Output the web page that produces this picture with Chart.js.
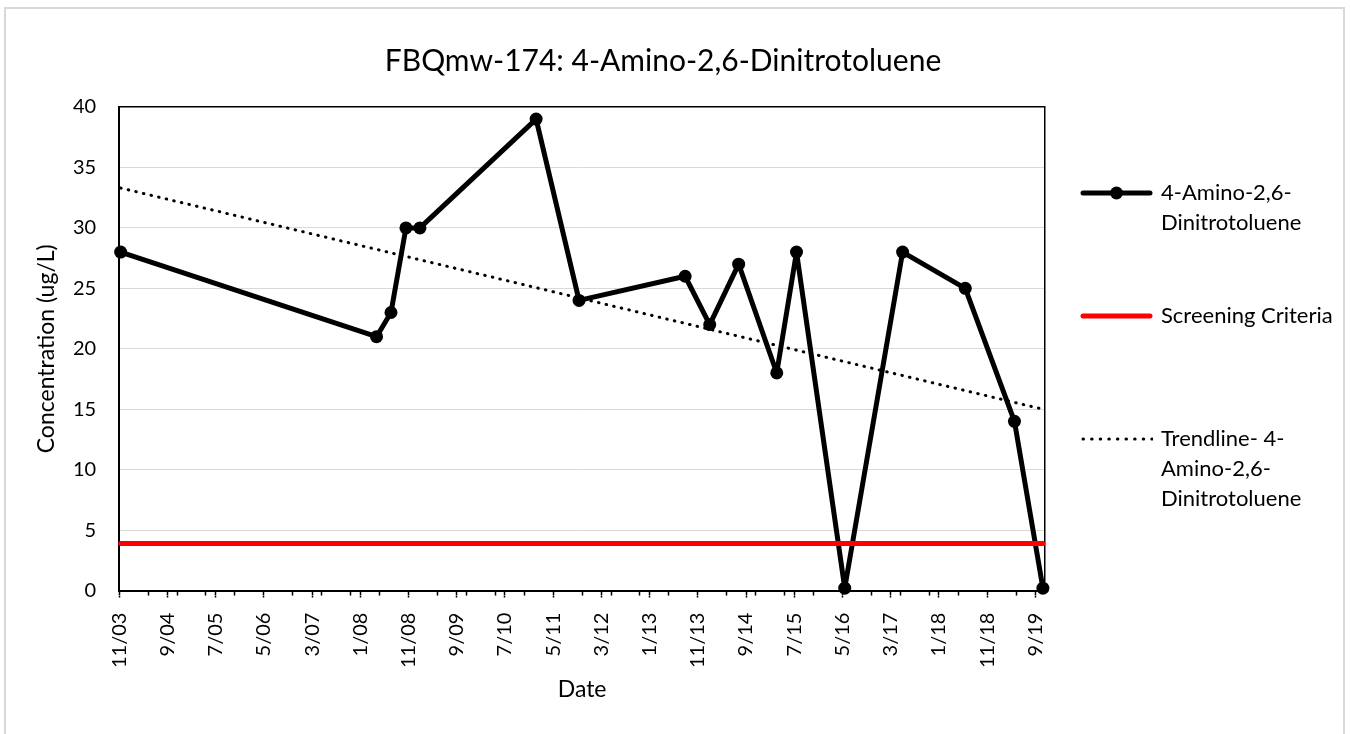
<!DOCTYPE html>
<html>
<head>
<meta charset="utf-8">
<title>FBQmw-174: 4-Amino-2,6-Dinitrotoluene</title>
<script src="https://cdn.jsdelivr.net/npm/chart.js@4.4.1/dist/chart.umd.min.js"></script>
<style>
  html, body { margin: 0; padding: 0; background: #fff; overflow: hidden; }
  #wrap { position: relative; width: 1350px; height: 734px; }
  #frame { position: absolute; left: 4px; top: 7px; width: 1337px; height: 730px; border: 2px solid #d9d9d9; pointer-events: none; }
</style>
</head>
<body>
<div id="wrap">
  <canvas id="chart"></canvas>
  <div id="frame"></div>
</div>
<script>
// chart text
const chartTitle = 'FBQmw-174: 4-Amino-2,6-Dinitrotoluene';
const xTitle = 'Date';
const yTitle = 'Concentration (ug/L)';

// sampling events (ug/L)
const sampleDates = ['2003-11-10', '2008-04-12', '2008-07-12', '2008-10-15', '2009-01-12', '2011-01-15',
  '2011-10-12', '2013-08-12', '2014-01-15', '2014-07-15', '2015-03-12', '2015-07-15', '2016-05-15',
  '2017-05-15', '2018-06-15', '2019-04-21', '2019-10-18'];
const concentration = [28, 21, 23, 30, 30, 39, 24, 26, 22, 27, 18, 28, 0.2, 28, 25, 14, 0.2];

// screening criteria line
const screeningDates = ['2003-11-10', '2019-10-18'];
const screeningValues = [3.9, 3.9];

// linear trendline end points
const trendDates = ['2003-11-10', '2019-10-18'];
const trendValues = [33.3, 15.0];

// axis ticks
const xTickLabels = ['11/03', '9/04', '7/05', '5/06', '3/07', '1/08', '11/08', '9/09', '7/10', '5/11',
  '3/12', '1/13', '11/13', '9/14', '7/15', '5/16', '3/17', '1/18', '11/18', '9/19'];
const xMax = 192; // months after 11/03 (right edge of plot)
const yMin = 0, yMax = 40, yStep = 5;

//x axis is in months counted from nov 2003
const toMonths = s => {
  const [y, m, d] = s.split('-').map(Number);
  return (y - 2003) * 12 + (m - 11) + (d - 1) / 30;
};
const labelMonths = l => {
  const [m, yy] = l.split('/').map(Number);
  return (2000 + yy - 2003) * 12 + (m - 11);
};
const toPoints = (dates, vals) => dates.map((d, i) => ({ x: toMonths(d), y: vals[i] }));

//small canvases used as legend symbols
const makeSymbol = draw => {
  const c = document.createElement('canvas');
  c.width = 73;
  c.height = 16;
  const g = c.getContext('2d');
  draw(g);
  return c;
};
const symMain = makeSymbol(g => {
  g.strokeStyle = '#000';
  g.lineWidth = 5;
  g.lineCap = 'round';
  g.beginPath(); g.moveTo(3, 8); g.lineTo(70, 8); g.stroke();
  g.fillStyle = '#000';
  g.beginPath(); g.arc(36.5, 8, 6.5, 0, Math.PI * 2); g.fill();
});
const symScreen = makeSymbol(g => {
  g.strokeStyle = '#ff0000';
  g.lineWidth = 5;
  g.lineCap = 'round';
  g.beginPath(); g.moveTo(3, 8); g.lineTo(70, 8); g.stroke();
});
const symTrend = makeSymbol(g => {
  g.strokeStyle = '#000';
  g.lineWidth = 3;
  g.lineCap = 'round';
  g.setLineDash([0.5, 8.1]);
  g.beginPath(); g.moveTo(3, 8); g.lineTo(72, 8); g.stroke();
});

const legendItems = [
  { text: ['4-Amino-2,6-', 'Dinitrotoluene', ''], pointStyle: symMain, fontColor: '#000', fillStyle: '#000', strokeStyle: '#000', lineWidth: 0, hidden: false, datasetIndex: 0 },
  { text: ['Screening Criteria', '', ''], pointStyle: symScreen, fontColor: '#000', fillStyle: '#f00', strokeStyle: '#f00', lineWidth: 0, hidden: false, datasetIndex: 1 },
  { text: ['Trendline- 4-', 'Amino-2,6-', 'Dinitrotoluene'], pointStyle: symTrend, fontColor: '#000', fillStyle: '#000', strokeStyle: '#000', lineWidth: 0, hidden: false, datasetIndex: 2 }
];

const tickFont = { family: 'Lato', size: 20 };
//small line heights keep the axis titles close to their tick labels
const xTitleFont = { family: 'Lato', size: 23, lineHeight: '6px' };
const yTitleFont = { family: 'Lato', size: 23, lineHeight: '6px' };

Chart.defaults.font.family = 'Lato';
Chart.defaults.color = '#000';

new Chart(document.getElementById('chart'), {
  type: 'line',
  data: {
    datasets: [
      {
        label: '4-Amino-2,6-Dinitrotoluene',
        data: toPoints(sampleDates, concentration),
        borderColor: '#000',
        backgroundColor: '#000',
        borderWidth: 5,
        borderJoinStyle: 'round',
        borderCapStyle: 'round',
        pointRadius: 6.5,
        pointBorderWidth: 0,
        pointBackgroundColor: '#000',
        tension: 0,
        clip: false,
        order: 2
      },
      {
        label: 'Screening Criteria',
        data: toPoints(screeningDates, screeningValues),
        borderColor: '#ff0000',
        borderWidth: 5,
        borderCapStyle: 'round',
        pointRadius: 0,
        clip: false,
        order: 0
      },
      {
        label: 'Trendline- 4-Amino-2,6-Dinitrotoluene',
        data: toPoints(trendDates, trendValues),
        borderColor: '#000',
        borderWidth: 3,
        borderCapStyle: 'round',
        borderDash: [0.5, 7.3],
        pointRadius: 0,
        order: 1
      }
    ]
  },
  options: {
    responsive: true,
    maintainAspectRatio: false,
    animation: false,
    events: [],
    //uneven side padding keeps the title a bit left of centre like the original
    layout: { padding: { left: -14, right: 10, top: 0, bottom: 10 } },
    scales: {
      x: {
        type: 'linear',
        position: 'bottom',
        weight: 1,
        min: 0,
        max: xMax,
        afterBuildTicks: axis => {
          axis.ticks = xTickLabels.map(l => ({ value: labelMonths(l) }));
        },
        ticks: {
          autoSkip: false,
          minRotation: 90,
          maxRotation: 90,
          padding: 15,
          color: '#000',
          font: tickFont,
          callback: (v, i) => xTickLabels[i]
        },
        grid: { drawOnChartArea: false, drawTicks: true, tickLength: 2, tickColor: '#000', tickWidth: 1.5 },
        border: { display: false },
        title: { display: true, text: xTitle, color: '#000', font: xTitleFont, padding: { top: 4, bottom: 31 } }
      },
      //second bottom axis only for the axis line and the small 6 month ticks
      xMinor: {
        type: 'linear',
        position: 'bottom',
        weight: 0,
        min: 0,
        max: xMax,
        afterBuildTicks: axis => {
          const vals = xTickLabels.map(labelMonths);
          for (let m = 6; m < xMax; m += 6) vals.push(m);
          axis.ticks = [...new Set(vals)].sort((a, b) => a - b).map(v => ({ value: v }));
        },
        ticks: { display: false },
        grid: { drawOnChartArea: false, drawTicks: true, tickLength: 5, tickColor: '#000', tickWidth: 1.5 },
        border: { display: true, color: '#000', width: 2 }
      },
      y: {
        min: yMin,
        max: yMax,
        ticks: { stepSize: yStep, padding: 23, color: '#000', font: tickFont },
        grid: {
          drawTicks: false,
          color: c => (c.tick && c.tick.value === yMax) ? '#000' : '#d9d9d9',
          lineWidth: c => (c.tick && c.tick.value === yMax) ? 1.5 : 1
        },
        border: { display: true, color: '#000', width: 2 },
        title: { display: true, text: yTitle, color: '#000', font: yTitleFont, padding: { top: 58, bottom: 0 } }
      },
      //right hand border of plot area
      yRight: {
        position: 'right',
        min: yMin,
        max: yMax,
        ticks: { display: false },
        grid: { drawOnChartArea: false, drawTicks: true, tickLength: 5, tickColor: 'rgba(0,0,0,0)' },
        border: { display: true, color: '#000', width: 1.5 }
      }
    },
    plugins: {
      title: {
        display: true,
        text: chartTitle,
        color: '#000',
        font: { family: 'Lato', size: 30, weight: 'normal', lineHeight: 1.2 },
        padding: { top: 43, bottom: 28 }
      },
      legend: {
        position: 'right',
        align: 'start',
        maxWidth: 290,
        //empty title used as top spacing
        title: { display: true, text: '', font: { size: 1, lineHeight: 1 }, padding: { top: 148, bottom: 0 } },
        labels: {
          usePointStyle: true,
          pointStyleWidth: 67,
          padding: 33,
          color: '#000',
          font: { family: 'Lato', size: 22, lineHeight: '30px' },
          generateLabels: () => legendItems
        }
      },
      tooltip: { enabled: false }
    }
  }
});
</script>
</body>
</html>
